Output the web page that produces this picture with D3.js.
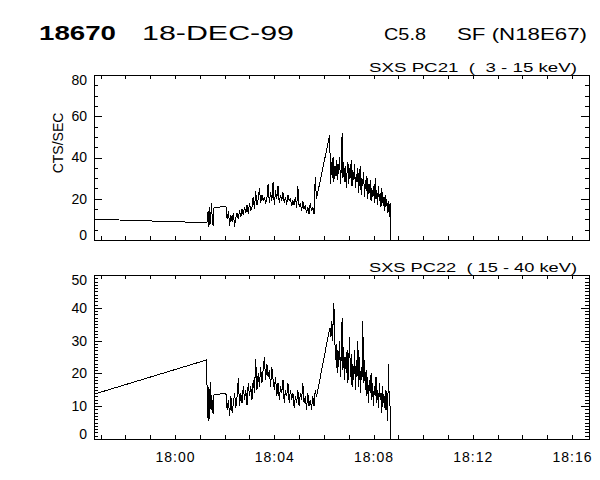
<!DOCTYPE html>
<html lang="en">
<head>
<meta charset="utf-8">
<title>18670 18-DEC-99 SXS</title>
<script src="https://d3js.org/d3.v7.min.js"></script>
<style>
body { margin: 0; background: #fff; }
text { font-family: "Liberation Sans", Arial, sans-serif; fill: #000; }
</style>
</head>
<body>
<div id="chart"></div>
<script>

// times in seconds from 18:00:00 UT, 18-DEC-99
var preTimes = [-200];
var prePC21 = [10.1];
var prePC22 = [13.5];

// short burst just after 18:01
var burstStart = 76, burstStep = 2;
var burstPC21 = [8.4, 9, 14, 6.5, 16, 8, 18, 10, 7, 15.5];
var burstPC22 = [24.1, 12.5, 5.5, 16, 6, 17.5, 9, 12, 7.5, 13.4];

// pre-flare part, 18:02 - 18:05:42
var quietStart = 123, quietStep = 3;
var quietPC21 = [16.5, 10, 14, 7, 12, 9, 13, 6.5, 11, 13,
  10, 14.5, 11, 15, 12, 16, 13, 17, 12.5, 18,
  14, 16, 21, 15, 23.5, 17, 20, 25, 18, 22,
  19, 21, 17.5, 20, 27, 18, 23, 19, 28, 17,
  24, 20, 26, 18, 22, 19, 23, 18, 21, 17,
  22, 19, 20, 16.5, 19, 17, 21, 15.5, 26, 16,
  18, 14, 19, 15, 17, 13, 16, 12.5, 18, 14,
  16, 12.5, 30.5, 20];
var quietPC22 = [14, 9, 12, 7, 13, 8, 11, 14, 9.5, 13,
  18.5, 10, 14, 11, 16, 12, 15, 10.5, 17, 13,
  16, 12, 18, 14, 24.5, 15, 20, 16, 22, 17,
  21, 25, 18, 23, 19, 21, 16, 22, 18, 15,
  19, 13, 17, 12, 16, 14, 18, 11, 15, 13,
  17, 11, 15, 12, 14, 9.5, 13, 11, 15, 10,
  14, 12, 17, 11, 13, 9, 14, 10, 12, 9,
  13, 10, 15, 12.8];

// flare, 18:06:14 - 18:08:42
var flareStart = 374, flareStep = 2;
var flarePC21 = [51, 27, 38, 30, 40, 28, 36, 31, 39, 29,
  37, 32, 40, 27, 35, 52, 30, 38, 28, 36,
  25, 33, 38, 27, 35, 30, 39, 26, 34, 29,
  37, 25, 32, 28, 35, 23, 31, 36, 22, 30,
  26, 33, 21, 29, 24, 31, 20, 27, 23, 29,
  19, 25, 21, 26, 18, 30, 20, 24, 17, 26,
  19, 23, 16, 25, 18, 21, 14, 22, 16, 20,
  13, 19, 11, 18, 0];
var flarePC22 = [33.8, 31, 36, 30, 35, 41.5, 32, 24, 29, 20,
  27, 22, 30, 19, 26, 37, 21, 28, 18, 25,
  20, 27, 17, 24, 31, 19, 26, 16, 23, 18,
  27, 15, 24, 19, 30, 16, 25, 14, 22, 18,
  36, 17, 24, 15, 21, 13, 19, 11, 18, 14,
  20, 12, 17, 10, 16, 13, 19, 11, 15, 9.5,
  17, 12, 14, 8, 16, 11, 13, 9, 15, 10,
  5.5, 23, 11, 10, 0];

var xStart = -196, xEnd = 1001;   // plot window, seconds from 18:00

var t0 = Date.UTC(1999, 11, 18, 18, 0, 0);

function buildSeries(pre, burst, quiet, flare) {
  var out = [];
  preTimes.forEach(function(t, i) { out.push({t: t, v: pre[i]}); });
  burst.forEach(function(v, i) { out.push({t: burstStart + i * burstStep, v: v}); });
  quiet.forEach(function(v, i) { out.push({t: quietStart + i * quietStep, v: v}); });
  flare.forEach(function(v, i) { out.push({t: flareStart + i * flareStep, v: v}); });
  return out.map(function(d) { return {date: new Date(t0 + d.t * 1000), v: d.v}; });
}

var panels = [
  {data: buildSeries(prePC21, burstPC21, quietPC21, flarePC21), top: 75, bottom: 240,
   yMax: 80, major: 20, minor: 5, label: "SXS PC21  (  3 - 15 keV)", xLabels: false},
  {data: buildSeries(prePC22, burstPC22, quietPC22, flarePC22), top: 275, bottom: 439,
   yMax: 50, major: 10, minor: 1, label: "SXS PC22  ( 15 - 40 keV)", xLabels: true}
];

var left = 94, right = 589;

var svg = d3.select("#chart").append("svg")
  .attr("width", 600)
  .attr("height", 480)
  .style("display", "block");

var x = d3.scaleUtc()
  .domain([new Date(t0 + xStart * 1000), new Date(t0 + xEnd * 1000)])
  .range([left, right]);

// titles
svg.append("text").attr("x", 39).attr("y", 40)
  .attr("font-size", 20).attr("font-weight", "bold")
  .attr("textLength", 77).attr("lengthAdjust", "spacingAndGlyphs")
  .text("18670");
svg.append("text").attr("x", 142).attr("y", 40)
  .attr("font-size", 20)
  .attr("textLength", 152).attr("lengthAdjust", "spacingAndGlyphs")
  .text("18-DEC-99");
svg.append("text").attr("x", 384).attr("y", 40)
  .attr("font-size", 17)
  .attr("textLength", 42).attr("lengthAdjust", "spacingAndGlyphs")
  .text("C5.8");
svg.append("text").attr("x", 457).attr("y", 40)
  .attr("font-size", 17)
  .attr("textLength", 130).attr("lengthAdjust", "spacingAndGlyphs")
  .text("SF (N18E67)");

var fmt = d3.utcFormat("%H:%M");

panels.forEach(function(p, k) {
  var y = d3.scaleLinear().domain([0, p.yMax]).range([p.bottom, p.top]);
  var g = svg.append("g").attr("shape-rendering", "crispEdges");

  var minorVals = d3.range(0, p.yMax + 0.001, p.minor);
  var majorVals = d3.range(0, p.yMax + 0.001, p.major);

  // y ticks, left and right, pointing inward
  g.append("g").attr("transform", "translate(" + left + ",0)")
    .call(d3.axisLeft(y).tickValues(minorVals).tickSize(-4).tickFormat(""));
  g.append("g").attr("transform", "translate(" + right + ",0)")
    .call(d3.axisRight(y).tickValues(minorVals).tickSize(-4).tickFormat(""));
  g.append("g").attr("transform", "translate(" + right + ",0)")
    .call(d3.axisRight(y).tickValues(majorVals).tickSize(-8).tickFormat(""));
  var yl = g.append("g").attr("transform", "translate(" + left + ",0)")
    .call(d3.axisLeft(y).tickValues(majorVals).tickSize(-8).tickPadding(7));
  yl.selectAll("text").attr("font-size", 14).style("font-family", null)
    .attr("y", function(d) { return d === 0 ? -5 : (d === p.yMax ? 5 : 0); });

  // x ticks every minute, labels every 4 minutes on the lower panel
  var xb = g.append("g").attr("transform", "translate(0," + p.bottom + ")")
    .call(d3.axisBottom(x).ticks(d3.utcMinute.every(1)).tickSize(-4).tickPadding(13)
      .tickFormat(function(d) {
        return (p.xLabels && d.getUTCMinutes() % 4 === 0) ? fmt(d) : "";
      }));
  xb.selectAll("text").attr("font-size", 14).style("font-family", null)
    .style("letter-spacing", "1px");
  g.append("g").attr("transform", "translate(0," + p.top + ")")
    .call(d3.axisTop(x).ticks(d3.utcMinute.every(1)).tickSize(-4).tickFormat(""));

  g.selectAll(".domain").remove();
  g.selectAll(".tick line").attr("stroke", "#000");

  g.append("rect")
    .attr("x", left).attr("y", p.top)
    .attr("width", right - left).attr("height", p.bottom - p.top)
    .attr("fill", "none").attr("stroke", "#000");

  svg.append("clipPath").attr("id", "clip" + k)
    .append("rect").attr("x", left).attr("y", p.top - 1)
    .attr("width", right - left).attr("height", p.bottom - p.top + 2);

  svg.append("path")
    .datum(p.data)
    .attr("clip-path", "url(#clip" + k + ")")
    .attr("fill", "none")
    .attr("stroke", "#000")
    .attr("stroke-width", 1)
    .attr("shape-rendering", "crispEdges")
    .attr("d", d3.line()
      .x(function(d) { return x(d.date); })
      .y(function(d) { return y(d.v); }));

  svg.append("text")
    .attr("x", 369).attr("y", p.top - 3)
    .attr("font-size", 13)
    .attr("textLength", 208).attr("lengthAdjust", "spacingAndGlyphs")
    .style("white-space", "pre")
    .text(p.label);
});

// y title
svg.append("text")
  .attr("transform", "translate(63,143) rotate(-90)")
  .attr("text-anchor", "middle")
  .attr("font-size", 14)
  .text("CTS/SEC");

</script>
</body>
</html>
